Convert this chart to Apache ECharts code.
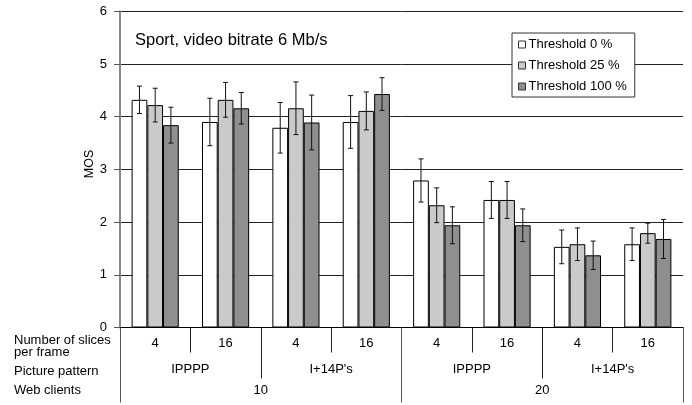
<!DOCTYPE html>
<html>
<head>
<meta charset="utf-8">
<script src="https://cdn.jsdelivr.net/npm/echarts@6/dist/echarts.min.js"></script>
<style>html,body{margin:0;padding:0;background:#fff}#c{width:692px;height:405px}</style>
</head>
<body>
<div id="c"></div>
<script>
var slices = ['4', '16', '4', '16', '4', '16', '4', '16'];
var patterns = ['IPPPP', "I+14P's", 'IPPPP', "I+14P's"];
var clients = ['10', '20'];
var seriesNames = ['Threshold 0 %', 'Threshold 25 %', 'Threshold 100 %'];
var t0 = [4.32, 3.90, 3.79, 3.90, 2.79, 2.42, 1.53, 1.58];
var t0Err = [0.26, 0.45, 0.48, 0.50, 0.41, 0.35, 0.32, 0.31];
var t25 = [4.22, 4.32, 4.16, 4.11, 2.32, 2.42, 1.58, 1.79];
var t25Err = [0.32, 0.33, 0.50, 0.36, 0.33, 0.35, 0.31, 0.19];
var t100 = [3.84, 4.16, 3.89, 4.43, 1.94, 1.94, 1.37, 1.68];
var t100Err = [0.34, 0.30, 0.52, 0.31, 0.35, 0.31, 0.27, 0.37];
var yTicks = [0, 1, 2, 3, 4, 5, 6];

var FONT = 'Liberation Sans, Arial, sans-serif';
var colors = ['#ffffff', '#cacaca', '#8f8f8f'];
var values = [t0, t25, t100];
var errs = [t0Err, t25Err, t100Err];
var BAR_RATIO = 0.2233;

var chart = echarts.init(document.getElementById('c'), null, {renderer: 'canvas'});

var series = [];
values.forEach(function (vals, k) {
  series.push({
    name: seriesNames[k], type: 'bar', xAxisIndex: 0, yAxisIndex: 0,
    data: vals, barWidth: (BAR_RATIO * 100) + '%', barGap: '0%',
    itemStyle: {color: colors[k], borderColor: '#000', borderWidth: 1},
    emphasis: {disabled: true}
  });
});
values.forEach(function (vals, k) {
  series.push({
    type: 'custom', xAxisIndex: 0, yAxisIndex: 0, z: 5,
    data: vals.map(function (v, i) { return [i, v, errs[k][i]]; }),
    renderItem: function (params, api) {
      var i = api.value(0), v = api.value(1), e = api.value(2);
      var c = api.coord([i, v]);
      var bw = api.size([1, 0])[0];
      var x = c[0] + (k - 1) * bw * BAR_RATIO;
      var yt = api.coord([i, v + e])[1];
      var yb = api.coord([i, v - e])[1];
      var cap = 2.5;
      var st = {stroke: '#111', lineWidth: 1};
      return {type: 'group', children: [
        {type: 'line', shape: {x1: x, y1: yt, x2: x, y2: yb}, style: st},
        {type: 'line', shape: {x1: x - cap, y1: yt, x2: x + cap, y2: yt}, style: st},
        {type: 'line', shape: {x1: x - cap, y1: yb, x2: x + cap, y2: yb}, style: st}
      ]};
    }
  });
});

var option = {
  animation: false,
  backgroundColor: '#fff',
  textStyle: {fontFamily: FONT},
  grid: {left: 120, right: 9, top: 11.3, bottom: 77.5, containLabel: false, outerBoundsMode: 'none'},
  legend: {
    data: seriesNames, orient: 'vertical', left: 512, top: 33,
    backgroundColor: '#fff', borderColor: '#333', borderWidth: 1,
    padding: [5, 8, 4, 6], itemWidth: 7, itemHeight: 7, itemGap: 8,
    icon: 'rect', selectedMode: false,
    itemStyle: {borderColor: '#333', borderWidth: 1},
    textStyle: {fontSize: 13, color: '#000', fontFamily: FONT, lineHeight: 13, padding: [0, 0, 0, -2]}
  },
  xAxis: [
    {
      type: 'category', data: slices, position: 'bottom', boundaryGap: true,
      axisLine: {show: true, lineStyle: {color: '#000', width: 1}},
      axisTick: {show: true, interval: 0, length: 25, lineStyle: {color: '#222'}},
      axisLabel: {interval: 0, margin: 9, fontSize: 13, color: '#000', fontFamily: FONT}
    },
    {
      type: 'category', data: patterns, position: 'bottom', boundaryGap: true,
      axisLine: {show: false},
      axisTick: {show: true, interval: 0, length: 51, lineStyle: {color: '#222'}},
      axisLabel: {interval: 0, margin: 35, fontSize: 13, color: '#000', fontFamily: FONT}
    },
    {
      type: 'category', data: clients, position: 'bottom', boundaryGap: true,
      axisLine: {show: false},
      axisTick: {show: true, interval: 0, length: 75, lineStyle: {color: '#555'}},
      axisLabel: {interval: 0, margin: 56, fontSize: 13, color: '#000', fontFamily: FONT}
    }
  ],
  yAxis: {
    type: 'value', min: yTicks[0], max: yTicks[yTicks.length - 1], interval: 1,
    axisLine: {show: true, lineStyle: {color: '#888', width: 2}},
    axisTick: {show: true, length: 6, inside: false, lineStyle: {color: '#555'}},
    axisLabel: {margin: 13, fontSize: 13, color: '#000', fontFamily: FONT},
    splitLine: {show: true, lineStyle: {color: '#222', width: 1}}
  },
  graphic: [
    {type: 'text', left: 135, top: 32, style: {text: 'Sport, video bitrate 6 Mb/s', font: '16.5px ' + FONT, fill: '#000'}},
    {type: 'text', x: 90, y: 164, rotation: Math.PI / 2, style: {text: 'MOS', font: '12.5px ' + FONT, fill: '#000', align: 'center', verticalAlign: 'middle'}},
    {type: 'text', x: 14, y: 335, style: {text: 'Number of slices\nper frame', font: '13px ' + FONT, fill: '#000', lineHeight: 11.6, verticalAlign: 'top'}},
    {type: 'text', x: 14, y: 371.7, style: {text: 'Picture pattern', font: '13px ' + FONT, fill: '#000', verticalAlign: 'middle'}},
    {type: 'text', x: 14, y: 390.7, style: {text: 'Web clients', font: '13px ' + FONT, fill: '#000', verticalAlign: 'middle'}}
  ],
  series: series
};
chart.setOption(option);
</script>
</body>
</html>
